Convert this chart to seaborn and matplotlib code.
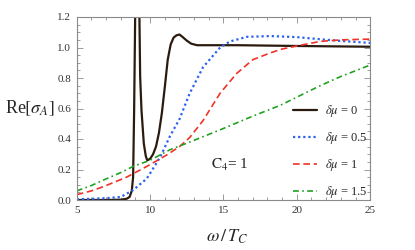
import matplotlib
matplotlib.use("Agg")
import matplotlib.pyplot as plt
from matplotlib.ticker import MultipleLocator
import numpy as np
import pandas as pd
import seaborn as sns

# ─────────────────────────────────────────────
# DATA
# ─────────────────────────────────────────────
w_mu0 = [5.0, 6.0, 7.0, 8.0, 8.4, 8.6, 8.75, 8.84, 8.91, 8.98, 9.05, 9.12,
         9.2, 9.27, 9.32, 9.41, 9.57, 9.7, 9.8, 10.0, 10.2, 10.4, 10.6,
         10.8, 11.0, 11.2, 11.4, 11.6, 11.8, 12.0, 12.2, 12.5, 12.8, 13.2,
         14.0, 16.0, 20.0, 25.0]
re_mu0 = [0.0, 0.0, 0.0, 0.002, 0.008, 0.02, 0.06, 0.15, 0.59, 1.2, 2.2, 2.6,
          2.0, 1.2, 0.81, 0.59, 0.37, 0.29, 0.26, 0.27, 0.30, 0.35, 0.44,
          0.57, 0.74, 0.92, 1.02, 1.065, 1.08, 1.085, 1.07, 1.045, 1.025, 1.015,
          1.015, 1.015, 1.01, 1.005]

w_mu05 = [5.0, 6.0, 7.0, 8.0, 8.84, 9.77, 10.68, 11.36, 12.0, 12.7, 13.6,
          14.77, 15.45, 16.6, 18.2, 20.0, 21.6, 23.0, 25.0]
re_mu05 = [0.005, 0.008, 0.012, 0.02, 0.065, 0.14, 0.28, 0.42, 0.53, 0.70,
           0.87, 1.0, 1.04, 1.07, 1.075, 1.068, 1.054, 1.043, 1.03]

w_mu1 = [5.0, 6.0, 6.8, 8.4, 9.77, 11.13, 12.0, 12.7, 13.6, 14.77, 15.9,
         17.0, 18.2, 19.0, 20.0, 21.6, 23.0, 25.0]
re_mu1 = [0.035, 0.06, 0.087, 0.15, 0.22, 0.295, 0.35, 0.41, 0.52, 0.70,
          0.83, 0.92, 0.965, 0.99, 1.01, 1.04, 1.05, 1.055]

w_mu15 = [5.0, 6.0, 6.8, 8.0, 8.84, 9.98, 11.36, 12.7, 14.77, 17.0, 18.85,
          21.6, 23.0, 25.0]
re_mu15 = [0.06, 0.095, 0.13, 0.18, 0.22, 0.26, 0.33, 0.38, 0.46, 0.55,
           0.62, 0.75, 0.81, 0.885]

labels = [r"$\delta\mu$ = 0", r"$\delta\mu$ = 0.5",
          r"$\delta\mu$ = 1", r"$\delta\mu$ = 1.5"]
colors = ["#2b1b0f", "#2a62f0", "#f03228", "#22a022"]

# ─────────────────────────────────────────────
# STYLE
# ─────────────────────────────────────────────
sns.set_theme(style="ticks")
plt.rcParams["font.family"] = ["Liberation Serif", "DejaVu Serif"]
plt.rcParams["mathtext.fontset"] = "stix"

fig = plt.figure(figsize=(4.15, 2.5), dpi=100)
ax = fig.add_axes([0.185, 0.2, 0.707, 0.732])

series = [
    (w_mu0, re_mu0, "-", 1.6),
    (w_mu05, re_mu05, (0, (1.0, 1.3)), 1.6),
    (w_mu1, re_mu1, (0, (4.0, 2.2)), 1.2),
    (w_mu15, re_mu15, (0, (3.5, 2.0, 1.0, 2.0)), 1.2),
]
for (xs, ys, ls, lw), lab, col in zip(series, labels, colors):
    df = pd.DataFrame({"w": xs, "re": ys})
    sns.lineplot(data=df, x="w", y="re", ax=ax, color=col, lw=lw,
                 linestyle=ls, label=lab, sort=True)

ax.set_xlim(5, 25)
ax.set_ylim(0, 1.2)
ax.xaxis.set_major_locator(MultipleLocator(5))
ax.xaxis.set_minor_locator(MultipleLocator(1))
ax.yaxis.set_major_locator(MultipleLocator(0.2))
ax.yaxis.set_minor_locator(MultipleLocator(0.05))
ax.yaxis.set_major_formatter(matplotlib.ticker.FormatStrFormatter("%.1f"))

for sp in ax.spines.values():
    sp.set_color("#8a8a8a")
    sp.set_linewidth(0.8)
ax.tick_params(which="both", direction="in", top=True, right=True,
               color="#8a8a8a", labelsize=8, labelcolor="#333333", width=0.6)
ax.tick_params(which="major", length=4, pad=4)
ax.tick_params(which="minor", length=2)

ax.set_xlabel(r"$\omega\,/\,T_C$", fontsize=13)
ax.xaxis.set_label_coords(0.513, -0.15)
ax.set_ylabel(r"Re$[\sigma_A]$", fontsize=13, rotation=0, va="center", ha="center")
ax.yaxis.set_label_coords(-0.159, 0.5)

ax.text(0.52, 0.19, r"$\mathrm{C}_4$= 1", transform=ax.transAxes,
        fontsize=11, ha="center", va="center")

leg = ax.legend(loc="upper left", bbox_to_anchor=(0.738, 0.53), frameon=False,
                fontsize=9, handlelength=1.9, handletextpad=0.6,
                labelspacing=0.88, borderaxespad=0, borderpad=0)

fig.savefig("out.png", dpi=100)
